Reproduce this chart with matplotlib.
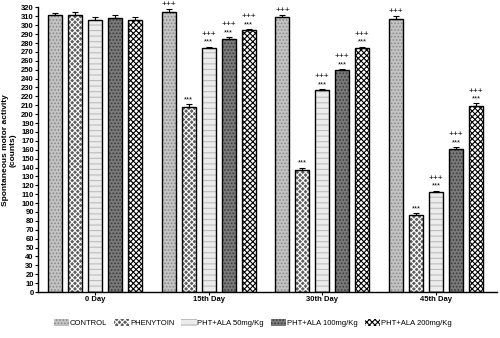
import numpy as np
import matplotlib.pyplot as plt

plt.rcParams['font.family'] = ['Liberation Sans', 'DejaVu Sans']
plt.rcParams['hatch.linewidth'] = 0.8

days = ["0 Day", "15th Day", "30th Day", "45th Day"]
groups = ["CONTROL", "PHENYTOIN", "PHT+ALA 50mg/Kg", "PHT+ALA 100mg/Kg", "PHT+ALA 200mg/Kg"]

control = [311, 315, 309, 307]
phenytoin = [311, 208, 137, 87]
ala50 = [306, 274, 227, 113]
ala100 = [308, 285, 250, 161]
ala200 = [306, 295, 274, 209]

control_err = [3, 3, 3, 3]
phenytoin_err = [4, 3, 3, 2]
ala50_err = [3, 2, 1, 1]
ala100_err = [4, 2, 1, 2]
ala200_err = [3, 1, 2, 3]

# significance marks per day (star row, plus row)
stars = [["", "", "", "", ""],
         ["", "***", "***", "***", "***"],
         ["", "***", "***", "***", "***"],
         ["", "***", "***", "***", "***"]]
pluses = [["", "", "", "", ""],
          ["+++", "", "+++", "+++", "+++"],
          ["+++", "", "+++", "+++", "+++"],
          ["+++", "", "+++", "+++", "+++"]]

series = [control, phenytoin, ala50, ala100, ala200]
errs = [control_err, phenytoin_err, ala50_err, ala100_err, ala200_err]
faces = ['#c4c4c4', '#5e5e5e', '#ececec', '#7a7a7a', '#ffffff']
hatches = ['.....', 'xxxxxx', '---', '.....', 'xxxxxx']
hcols = ['#8a8a8a', '#ffffff', '#bdbdbd', '#3a3a3a', '#000000']

fig = plt.figure(figsize=(5, 3.38), dpi=100)
ax = fig.add_axes([0.076, 0.136, 0.918, 0.842])

step = 5.7
x0 = np.arange(len(days)) * step
for i, (vals, e) in enumerate(zip(series, errs)):
    xs = x0 + i
    ax.bar(xs, vals, width=0.7, color=faces[i], edgecolor=hcols[i],
           hatch=hatches[i], linewidth=0, label=groups[i], zorder=2)
    ax.bar(xs, vals, width=0.7, facecolor='none', edgecolor='black', linewidth=1.0, zorder=3)
    ax.errorbar(xs, vals, yerr=[np.zeros(len(e)), e], fmt='none', ecolor='black',
                elinewidth=0.8, capsize=2.5, capthick=0.8, zorder=4)
    for d in range(len(days)):
        top = vals[d] + e[d]
        if stars[d][i]:
            ax.text(xs[d], top + 1, stars[d][i], ha='center', va='bottom', fontsize=5.5, clip_on=False)
        if pluses[d][i]:
            yy = top + 10 if stars[d][i] else top + 1
            ax.text(xs[d], yy, pluses[d][i], ha='center', va='bottom', fontsize=6, clip_on=False)

ax.set_xlim(-0.85, x0[-1] + 4 + 1.05)
ax.set_ylim(0, 320)
ax.set_yticks(np.arange(0, 321, 10))
ax.tick_params(axis='y', labelsize=5.5, length=2, width=0.8, pad=1)
ax.set_xticks(x0 + 2)
ax.set_xticklabels(days, fontsize=5.5, fontweight='bold')
ax.tick_params(axis='x', length=2, width=0.8, pad=1)
for lbl in ax.get_yticklabels():
    lbl.set_fontweight('bold')
for s in ['top', 'right']:
    ax.spines[s].set_visible(False)
for s in ['left', 'bottom']:
    ax.spines[s].set_linewidth(1.0)

ax.set_ylabel("Spontaneous motor activity\n(counts)", fontsize=6, fontweight='bold', labelpad=3)

handles, labels = ax.get_legend_handles_labels()
fig.legend(handles, labels, loc='center', bbox_to_anchor=(0.505, 0.044), ncol=5,
           frameon=False, fontsize=5.5, handlelength=2.0, handleheight=0.9,
           handletextpad=0.1, columnspacing=0.9)

fig.savefig('out.png', dpi=100)
